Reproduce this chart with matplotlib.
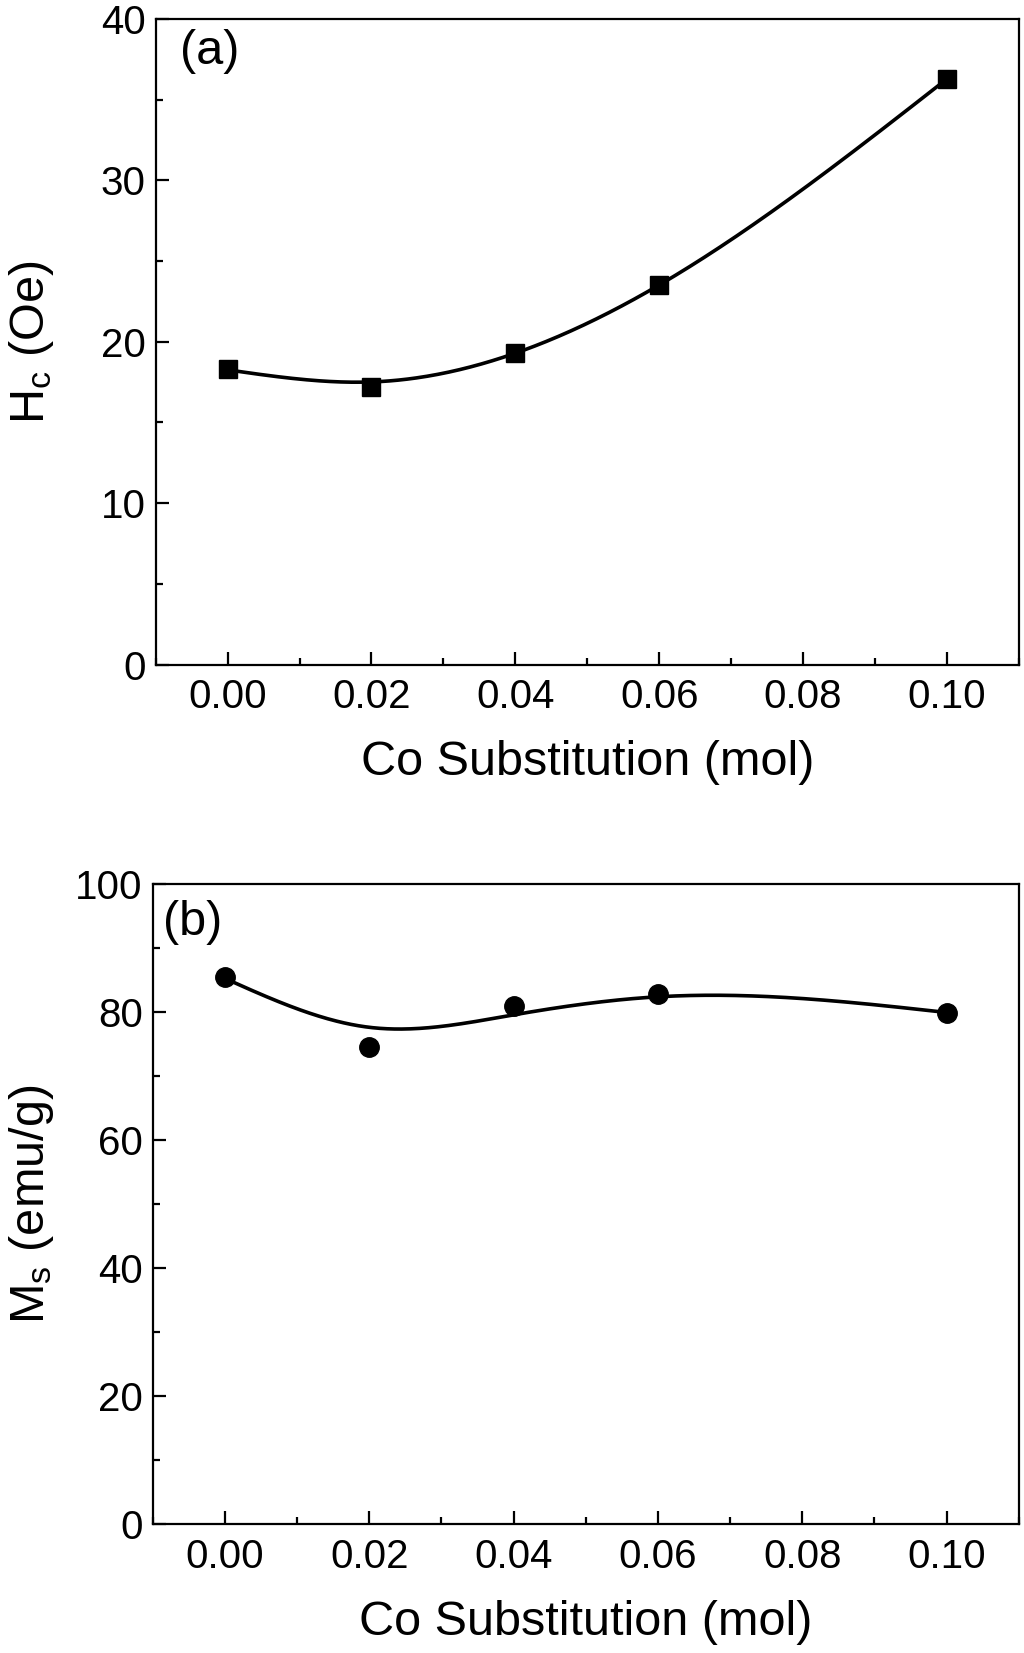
import numpy as np
import matplotlib
matplotlib.use('Agg')
import matplotlib.pyplot as plt
from matplotlib.ticker import MultipleLocator, FormatStrFormatter

plt.rcParams['font.family'] = ['Liberation Sans', 'DejaVu Sans']
plt.rcParams['mathtext.default'] = 'regular'

# Data
co_sub = [0.00, 0.02, 0.04, 0.06, 0.10]
hc = [18.3, 17.2, 19.3, 23.5, 36.3]
ms = [85.5, 74.6, 80.9, 82.8, 79.9]

x_ticks = [0.00, 0.02, 0.04, 0.06, 0.08, 0.10]


def smooth_line(x, y, lam, n=401, end_w=6.0):
    # penalised smoothing spline on a fine grid (like Origin's spline connector)
    x = np.asarray(x, float)
    y = np.asarray(y, float)
    xs = np.linspace(x[0], x[-1], n)
    idx = np.round((x - x[0]) / (x[-1] - x[0]) * (n - 1)).astype(int)
    w = np.zeros(n)
    w[idx] = 1.0
    w[idx[0]] = w[idx[-1]] = end_w
    rhs = np.zeros(n)
    rhs[idx] = y * w[idx]
    D = np.diff(np.eye(n), 2, axis=0)
    f = np.linalg.solve(np.diag(w) + lam * D.T @ D, rhs)
    return xs, f


def style(ax, ymax, ymajor):
    ax.set_xlim(-0.01, 0.11)
    ax.set_ylim(0, ymax)
    ax.set_xticks(x_ticks)
    ax.xaxis.set_major_formatter(FormatStrFormatter('%.2f'))
    ax.xaxis.set_minor_locator(MultipleLocator(0.01))
    ax.yaxis.set_major_locator(MultipleLocator(ymajor))
    ax.yaxis.set_minor_locator(MultipleLocator(ymajor / 2))
    ax.tick_params(which='both', direction='in', width=1.6, labelsize=29)
    ax.tick_params(which='major', length=9.5)
    ax.tick_params(which='minor', length=5)
    ax.tick_params(axis='x', pad=10)
    ax.tick_params(axis='y', pad=7)
    ax.tick_params(top=False, right=False)
    for s in ax.spines.values():
        s.set_linewidth(1.6)
    ax.set_xlabel('Co Substitution (mol)', fontsize=35, labelpad=17)


fig = plt.figure(figsize=(10.24, 16.53), dpi=100)

# (a) coercivity
ax1 = fig.add_axes([0.152, 0.598, 0.843, 0.3905])
xs, fs = smooth_line(co_sub, hc, 4e4)
ax1.plot(xs, fs, color='black', lw=2.6)
ax1.plot(co_sub, hc, 's', color='black', ms=13, ls='none')
style(ax1, 40, 10)
ax1.set_ylabel(r'H$_c$ (Oe)', fontsize=35)
ax1.yaxis.set_label_coords(-0.115, 0.5)
ax1.text(0.028, 0.985, '(a)', transform=ax1.transAxes, fontsize=35, va='top', ha='left')

# (b) saturation magnetisation
ax2 = fig.add_axes([0.149, 0.078, 0.846, 0.3872])
xs, fs = smooth_line(co_sub, ms, 5e4)
ax2.plot(xs, fs, color='black', lw=2.6)
ax2.plot(co_sub, ms, 'o', color='black', ms=14, ls='none')
style(ax2, 100, 20)
ax2.set_ylabel(r'M$_s$ (emu/g)', fontsize=35)
ax2.yaxis.set_label_coords(-0.112, 0.5)
ax2.text(0.012, 0.975, '(b)', transform=ax2.transAxes, fontsize=35, va='top', ha='left')

fig.savefig('out.png', dpi=100)
